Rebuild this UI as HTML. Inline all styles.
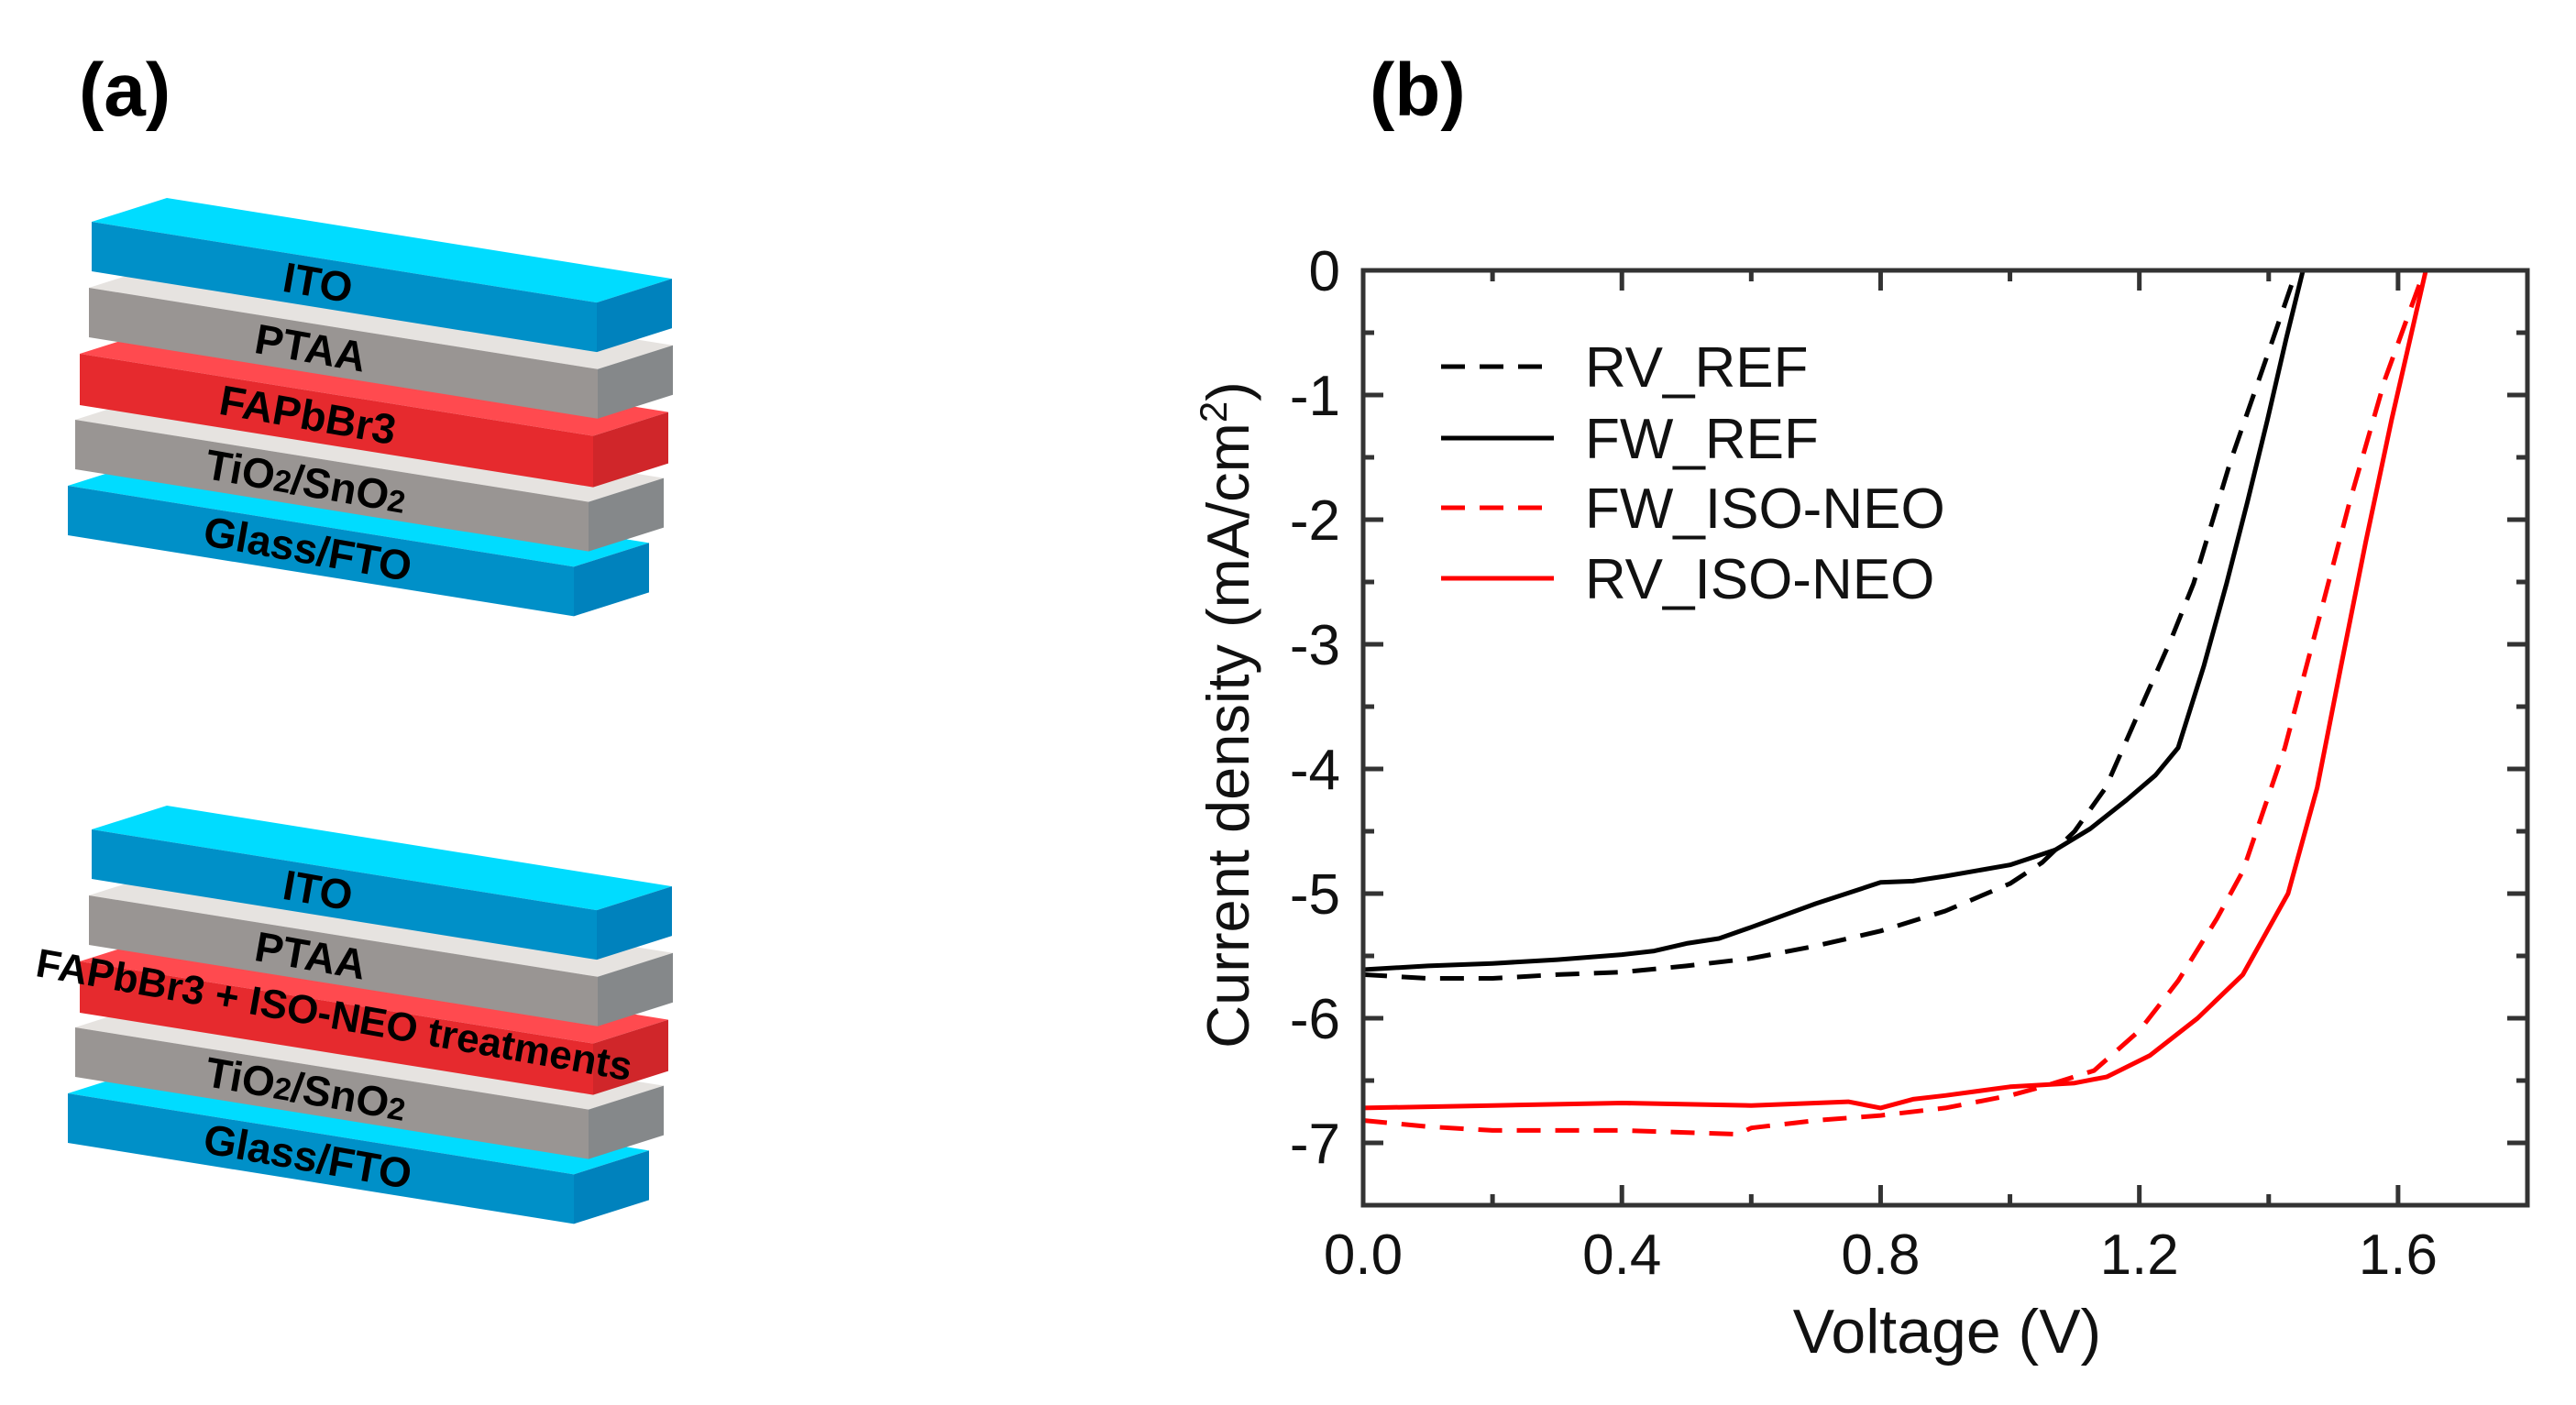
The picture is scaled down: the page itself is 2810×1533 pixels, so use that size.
<!DOCTYPE html>
<html><head><meta charset="utf-8"><style>
html,body{margin:0;padding:0;background:#fff;}
svg{display:block;font-family:"Liberation Sans",Arial,sans-serif;}
</style></head><body>
<svg id="fig" width="2810" height="1533" viewBox="0 0 2810 1533">
<text x="86" y="126" font-size="82" font-weight="bold">(a)</text>
<text x="1494" y="126" font-size="82" font-weight="bold">(b)</text>
<g id="stacks"></g>
<g id="chart"></g>
</svg>
<script>
// ---------- Chart data ----------
const xTicks = [0.0, 0.4, 0.8, 1.2, 1.6];
const xTickLabels = ["0.0", "0.4", "0.8", "1.2", "1.6"];
const yTicks = [0, -1, -2, -3, -4, -5, -6, -7];
const yTickLabels = ["0", "-1", "-2", "-3", "-4", "-5", "-6", "-7"];
const seriesNames = ["RV_REF", "FW_REF", "FW_ISO-NEO", "RV_ISO-NEO"];
const rvRefV = [0, 0.1, 0.2, 0.3, 0.4, 0.5, 0.6, 0.7, 0.8, 0.9, 1.0, 1.05, 1.1, 1.148, 1.209, 1.25, 1.284, 1.341, 1.396, 1.443];
const rvRefJ = [-5.65, -5.68, -5.68, -5.65, -5.63, -5.58, -5.52, -5.42, -5.3, -5.14, -4.92, -4.75, -4.5, -4.15, -3.43, -2.95, -2.51, -1.53, -0.71, 0];
const fwRefV = [0, 0.1, 0.2, 0.3, 0.4, 0.45, 0.5, 0.55, 0.6, 0.7, 0.8, 0.85, 0.9, 1.0, 1.07, 1.124, 1.18, 1.225, 1.26, 1.30, 1.335, 1.367, 1.398, 1.427, 1.453];
const fwRefJ = [-5.61, -5.58, -5.56, -5.53, -5.49, -5.46, -5.4, -5.36, -5.27, -5.08, -4.91, -4.9, -4.86, -4.77, -4.65, -4.48, -4.25, -4.05, -3.83, -3.17, -2.51, -1.86, -1.2, -0.55, 0];
const fwIsoV = [0, 0.1, 0.2, 0.4, 0.58, 0.6, 0.7, 0.8, 0.9, 1.0, 1.05, 1.13, 1.2, 1.26, 1.32, 1.36, 1.425, 1.475, 1.525, 1.58, 1.641];
const fwIsoJ = [-6.82, -6.87, -6.9, -6.9, -6.93, -6.88, -6.82, -6.78, -6.72, -6.62, -6.55, -6.42, -6.1, -5.7, -5.2, -4.82, -3.83, -2.85, -1.86, -0.87, 0];
const rvIsoV = [0, 0.2, 0.4, 0.6, 0.75, 0.8, 0.85, 0.9, 1.0, 1.1, 1.15, 1.216, 1.29, 1.36, 1.43, 1.475, 1.512, 1.55, 1.59, 1.643];
const rvIsoJ = [-6.72, -6.7, -6.68, -6.7, -6.67, -6.72, -6.65, -6.62, -6.55, -6.52, -6.47, -6.3, -6.0, -5.65, -5.0, -4.15, -3.17, -2.18, -1.2, 0];

const NS = "http://www.w3.org/2000/svg";
const L = 1487, R = 2757, T = 295, B = 1315;
const xMin = 0, xMax = 1.8, yMin = -7.5, yMax = 0;
function sx(v){ return L + (v - xMin) / (xMax - xMin) * (R - L); }
function sy(v){ return T + (yMax - v) / (yMax - yMin) * (B - T); }
function mk(tag, attrs, parent){
  const e = document.createElementNS(NS, tag);
  for (const k in attrs) e.setAttribute(k, attrs[k]);
  parent.appendChild(e); return e;
}
const chart = document.getElementById('chart');

const series = [
  {v: rvRefV, j: rvRefJ, c: "#000", dash: "26,16", name: "series-rv-ref"},
  {v: fwRefV, j: fwRefJ, c: "#000", dash: "", name: "series-fw-ref"},
  {v: fwIsoV, j: fwIsoJ, c: "#ff0000", dash: "26,16", name: "series-fw-iso-neo"},
  {v: rvIsoV, j: rvIsoJ, c: "#ff0000", dash: "", name: "series-rv-iso-neo"}
];
series.forEach(s => {
  let d = "";
  s.v.forEach((v, i) => { d += (i ? "L" : "M") + sx(v).toFixed(1) + "," + sy(s.j[i]).toFixed(1); });
  const p = mk('path', {d: d, fill: "none", stroke: s.c, "stroke-width": 5, "stroke-linejoin": "round"}, chart);
  if (s.dash) p.setAttribute('stroke-dasharray', s.dash);
  
  
});

const frame = mk('rect', {x: L, y: T, width: R - L, height: B - T, fill: "none", stroke: "#333", "stroke-width": 5}, chart);



xTicks.forEach((t, i) => {
  mk('line', {x1: sx(t), x2: sx(t), y1: B, y2: B - 22, stroke: "#333", "stroke-width": 5}, chart);
  mk('line', {x1: sx(t), x2: sx(t), y1: T, y2: T + 22, stroke: "#333", "stroke-width": 5}, chart);
  const lbl = mk('text', {x: sx(t), y: 1390, "font-size": 62, "text-anchor": "middle", fill: "#111"}, chart);
  lbl.textContent = xTickLabels[i];
  
  
});
for (let v = 0.2; v < 1.8; v += 0.4) {
  mk('line', {x1: sx(v), x2: sx(v), y1: B, y2: B - 12, stroke: "#333", "stroke-width": 5}, chart);
  mk('line', {x1: sx(v), x2: sx(v), y1: T, y2: T + 12, stroke: "#333", "stroke-width": 5}, chart);
}
yTicks.forEach((t, i) => {
  mk('line', {x1: L, x2: L + 22, y1: sy(t), y2: sy(t), stroke: "#333", "stroke-width": 5}, chart);
  mk('line', {x1: R, x2: R - 22, y1: sy(t), y2: sy(t), stroke: "#333", "stroke-width": 5}, chart);
  const lbl = mk('text', {x: 1462, y: sy(t) + 22, "font-size": 62, "text-anchor": "end", fill: "#111"}, chart);
  lbl.textContent = yTickLabels[i];
  
  
});
for (let v = -0.5; v > -7.5; v -= 1) {
  mk('line', {x1: L, x2: L + 12, y1: sy(v), y2: sy(v), stroke: "#333", "stroke-width": 5}, chart);
  mk('line', {x1: R, x2: R - 12, y1: sy(v), y2: sy(v), stroke: "#333", "stroke-width": 5}, chart);
}
const xt = mk('text', {x: 2124, y: 1476, "font-size": 68, "text-anchor": "middle", fill: "#111"}, chart);
xt.textContent = "Voltage (V)";


const yt = mk('text', {x: 0, y: 0, "font-size": 65, "text-anchor": "middle", fill: "#111", transform: "translate(1362,780) rotate(-90)"}, chart);
yt.innerHTML = 'Current density (mA/cm<tspan dy="-24" font-size="42">2</tspan><tspan dy="24">)</tspan>';



const legY = [400, 478, 554, 631];
series.forEach((s, i) => {
  const ln = mk('line', {x1: 1572, x2: 1695, y1: legY[i], y2: legY[i], stroke: s.c, "stroke-width": 5}, chart);
  if (s.dash) ln.setAttribute('stroke-dasharray', '26,16');
  
  
  const tx = mk('text', {x: 1729, y: legY[i] + 22, "font-size": 62, fill: "#111"}, chart);
  tx.textContent = seriesNames[i];
  
  
});

// ---------- Device stacks ----------
const stacks = document.getElementById('stacks');
const blue = {front: "#0090c8", top: "#00dcff", side: "#0082bd"};
const grey = {front: "#999593", top: "#e6e3e0", side: "#85888a"};
const red = {front: "#e62a2e", top: "#ff4a4f", side: "#d0262a"};
const slope = 0.16, dx = 82, dy = -26;
function slab(x, y, len, t, col, name){
  const g = mk('g', {}, stacks);
  
  
  const x2 = x + len, y2 = y + len * slope;
  mk('polygon', {points: `${x},${y} ${x2},${y2} ${x2+dx},${y2+dy} ${x+dx},${y+dy}`, fill: col.top}, g);
  mk('polygon', {points: `${x},${y} ${x2},${y2} ${x2},${y2+t} ${x},${y+t}`, fill: col.front}, g);
  mk('polygon', {points: `${x2},${y2} ${x2+dx},${y2+dy} ${x2+dx},${y2+dy+t} ${x2},${y2+t}`, fill: col.side}, g);
}
function label(cx, cy, txt, size, name){
  const tx = mk('text', {x: 0, y: 0, "font-size": size, "font-weight": "bold", "text-anchor": "middle", fill: "#000", transform: `translate(${cx},${cy}) rotate(10)`}, stacks);
  tx.innerHTML = txt;
  
  
}
function ly(top, x0, cx){ return top + 27 + (cx - x0) * slope + 16; }
[0, 663].forEach((off, k) => {
  slab(74, 530 + off, 552, 54, blue, 'glass-fto-layer');
  slab(82, 458 + off, 560, 54, grey, 'tio2-sno2-layer');
  slab(87, 386 + off, 560, 56, red, 'fapbbr3-layer');
  slab(97, 314 + off, 555, 54, grey, 'ptaa-layer');
  slab(100, 242 + off, 551, 54, blue, 'ito-layer');
  label(344, ly(242 + off, 100, 344), "ITO", 46, 'ito-label');
  label(336, ly(314 + off, 97, 336), "PTAA", 46, 'ptaa-label');
  if (k === 0) label(333, ly(386, 87, 333), "FAPbBr3", 46, 'fapbbr3-label');
  else label(362, 1122, "FAPbBr3 + ISO-NEO treatments", 44, 'fapbbr3-iso-neo-label');
  label(331, ly(458 + off, 82, 331), 'TiO<tspan font-size="34">2</tspan>/SnO<tspan font-size="34">2</tspan>', 46, 'tio2-sno2-label');
  label(333, ly(530 + off, 74, 333), "Glass/FTO", 46, 'glass-fto-label');
});
</script>
</body></html>
